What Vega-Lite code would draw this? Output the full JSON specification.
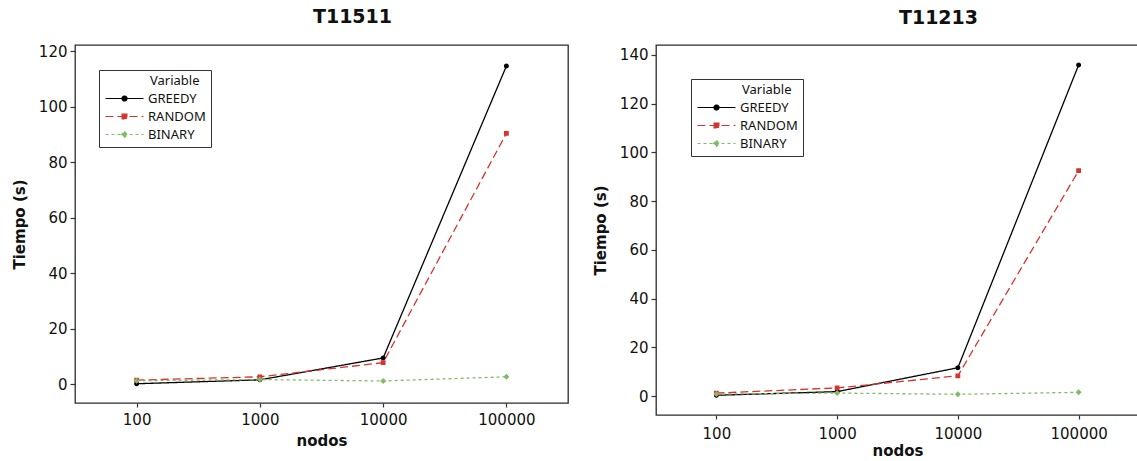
{
  "$schema": "https://vega.github.io/schema/vega-lite/v6.json",
  "background": "white",
  "padding": {"left": 11, "top": 7, "right": 0, "bottom": 0},
  "spacing": 23,
  "resolve": {"scale": {"color": "independent", "shape": "independent", "strokeDash": "independent"}},
  "config": {
    "font": "DejaVu Sans",
    "view": {"stroke": "#2b2b2b", "strokeWidth": 1.3},
    "title": {"font": "DejaVu Sans", "fontSize": 19, "fontWeight": "bold", "color": "#111", "baseline": "alphabetic", "offset": 17, "anchor": "middle"},
    "axis": {
      "grid": false, "domain": false, "ticks": true, "tickSize": 5, "tickColor": "#333", "tickWidth": 1.2,
      "labelFont": "DejaVu Sans", "labelFontSize": 15, "labelColor": "#111", "labelPadding": 3,
      "titleFont": "DejaVu Sans", "titleFontSize": 15, "titleFontWeight": "bold", "titleColor": "#111"
    },
    "legend": {
      "orient": "none", "strokeColor": "#333", "fillColor": "white", "padding": 5,
      "symbolSize": 100, "symbolStrokeWidth": 1.2, "symbolOpacity": 1, "symbolOffset": 14,
      "labelFont": "Noto Sans", "labelFontSize": 13, "labelColor": "#111", "labelOffset": 17,
      "titleFont": "Noto Sans", "titleFontSize": 13, "titleFontWeight": "normal", "titleColor": "#111", "titlePadding": 4,
      "rowPadding": 4
    }
  },
  "hconcat": [
    {
      "title": {"text": "T11511", "dx": 31},
      "width": 493,
      "height": 358,
      "data": {"values": [
        {"nodos": "100", "Variable": "GREEDY", "tiempo": 0.1},
        {"nodos": "1000", "Variable": "GREEDY", "tiempo": 1.5},
        {"nodos": "10000", "Variable": "GREEDY", "tiempo": 9.4},
        {"nodos": "100000", "Variable": "GREEDY", "tiempo": 114.7},
        {"nodos": "100", "Variable": "RANDOM", "tiempo": 1.4},
        {"nodos": "1000", "Variable": "RANDOM", "tiempo": 2.6},
        {"nodos": "10000", "Variable": "RANDOM", "tiempo": 7.7},
        {"nodos": "100000", "Variable": "RANDOM", "tiempo": 90.4},
        {"nodos": "100", "Variable": "BINARY", "tiempo": 1.2},
        {"nodos": "1000", "Variable": "BINARY", "tiempo": 1.6},
        {"nodos": "10000", "Variable": "BINARY", "tiempo": 1.1},
        {"nodos": "100000", "Variable": "BINARY", "tiempo": 2.6}
      ]},
      "encoding": {
        "x": {"field": "nodos", "type": "ordinal", "sort": ["100", "1000", "10000", "100000"], "scale": {"type": "point", "padding": 0.5},
              "axis": {"labelAngle": 0, "tickSize": 4, "labelPadding": 5, "titlePadding": 6, "title": "nodos"}},
        "y": {"field": "tiempo", "type": "quantitative", "scale": {"domain": [-6.85, 122.3], "nice": false, "zero": false},
              "axis": {"values": [0, 20, 40, 60, 80, 100, 120], "title": "Tiempo (s)", "titlePadding": 11}},
        "color": {"field": "Variable", "type": "nominal", "sort": ["GREEDY", "RANDOM", "BINARY"],
                  "scale": {"domain": ["GREEDY", "RANDOM", "BINARY"], "range": ["#000000", "#d6332e", "#80bc66"]},
                  "legend": {"legendX": 24, "legendY": 25, "encode": {"title": {"update": {"dx": {"value": 46}}}}}}
      },
      "layer": [
        {"mark": {"type": "line", "strokeWidth": 1.3},
         "encoding": {"strokeDash": {"field": "Variable", "type": "nominal", "sort": ["GREEDY", "RANDOM", "BINARY"],
                      "scale": {"domain": ["GREEDY", "RANDOM", "BINARY"], "range": [[1, 0], [8, 4], [3, 3]]}}}},
        {"mark": {"type": "point", "filled": true, "size": 100, "opacity": 1},
         "encoding": {"shape": {"field": "Variable", "type": "nominal", "sort": ["GREEDY", "RANDOM", "BINARY"],
                      "scale": {"domain": ["GREEDY", "RANDOM", "BINARY"], "range": [
                        "M-3.8,0H3.8M-0.5,0A0.5,0.5,0,1,0,0.5,0A0.5,0.5,0,1,0,-0.5,0Z",
                        "M-3.8,0H3.8M-0.48,-0.48H0.48V0.48H-0.48Z",
                        "M-3.8,0H3.8M0,-0.6L0.6,0L0,0.6L-0.6,0Z"]}}}}
      ]
    },
    {
      "title": {"text": "T11213", "dx": 41},
      "width": 483,
      "height": 370,
      "data": {"values": [
        {"nodos": "100", "Variable": "GREEDY", "tiempo": 0.3},
        {"nodos": "1000", "Variable": "GREEDY", "tiempo": 1.8},
        {"nodos": "10000", "Variable": "GREEDY", "tiempo": 11.6},
        {"nodos": "100000", "Variable": "GREEDY", "tiempo": 135.9},
        {"nodos": "100", "Variable": "RANDOM", "tiempo": 1.2},
        {"nodos": "1000", "Variable": "RANDOM", "tiempo": 3.3},
        {"nodos": "10000", "Variable": "RANDOM", "tiempo": 8.3},
        {"nodos": "100000", "Variable": "RANDOM", "tiempo": 92.5},
        {"nodos": "100", "Variable": "BINARY", "tiempo": 0.8},
        {"nodos": "1000", "Variable": "BINARY", "tiempo": 1.2},
        {"nodos": "10000", "Variable": "BINARY", "tiempo": 0.7},
        {"nodos": "100000", "Variable": "BINARY", "tiempo": 1.5}
      ]},
      "encoding": {
        "x": {"field": "nodos", "type": "ordinal", "sort": ["100", "1000", "10000", "100000"], "scale": {"type": "point", "padding": 0.5},
              "axis": {"labelAngle": 0, "tickSize": 4, "labelPadding": 7, "titlePadding": 2, "title": "nodos"}},
        "y": {"field": "tiempo", "type": "quantitative", "scale": {"domain": [-7.8, 144.1], "nice": false, "zero": false},
              "axis": {"values": [0, 20, 40, 60, 80, 100, 120, 140], "title": "Tiempo (s)", "titlePadding": 11}},
        "color": {"field": "Variable", "type": "nominal", "sort": ["GREEDY", "RANDOM", "BINARY"],
                  "scale": {"domain": ["GREEDY", "RANDOM", "BINARY"], "range": ["#000000", "#d6332e", "#80bc66"]},
                  "legend": {"legendX": 35, "legendY": 34, "encode": {"title": {"update": {"dx": {"value": 46}}}}}}
      },
      "layer": [
        {"mark": {"type": "line", "strokeWidth": 1.3},
         "encoding": {"strokeDash": {"field": "Variable", "type": "nominal", "sort": ["GREEDY", "RANDOM", "BINARY"],
                      "scale": {"domain": ["GREEDY", "RANDOM", "BINARY"], "range": [[1, 0], [8, 4], [3, 3]]}}}},
        {"mark": {"type": "point", "filled": true, "size": 100, "opacity": 1},
         "encoding": {"shape": {"field": "Variable", "type": "nominal", "sort": ["GREEDY", "RANDOM", "BINARY"],
                      "scale": {"domain": ["GREEDY", "RANDOM", "BINARY"], "range": [
                        "M-3.8,0H3.8M-0.5,0A0.5,0.5,0,1,0,0.5,0A0.5,0.5,0,1,0,-0.5,0Z",
                        "M-3.8,0H3.8M-0.48,-0.48H0.48V0.48H-0.48Z",
                        "M-3.8,0H3.8M0,-0.6L0.6,0L0,0.6L-0.6,0Z"]}}}}
      ]
    }
  ]
}
